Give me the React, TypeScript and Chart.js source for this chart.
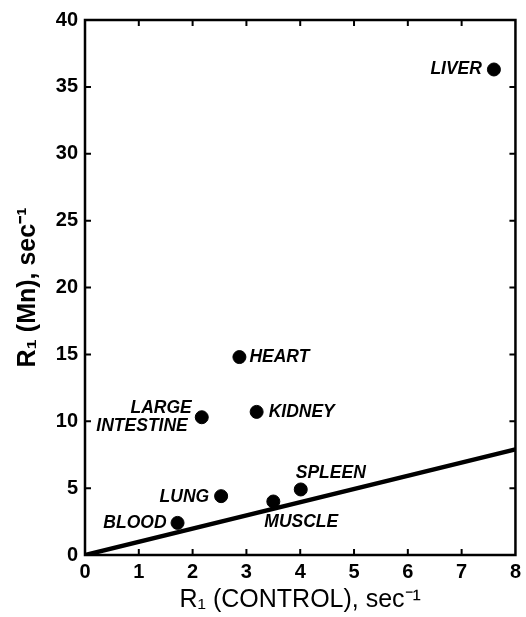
import { useEffect, useRef } from 'react';
import { Chart, registerables } from 'chart.js';

Chart.register(...registerables);

// ---- data ----
const ORGANS = ['LIVER', 'HEART', 'LARGE\nINTESTINE', 'KIDNEY', 'SPLEEN', 'LUNG', 'MUSCLE', 'BLOOD'];
const R1_CONTROL = [7.6, 2.87, 2.17, 3.19, 4.01, 2.53, 3.5, 1.72];
const R1_MN = [36.3, 14.8, 10.3, 10.7, 4.9, 4.4, 4.0, 2.4];

const IDENTITY_X = [0, 8];
const IDENTITY_Y = [0, 7.9];

const X_MIN = 0;
const X_MAX = 8;
const X_STEP = 1;
const Y_MIN = 0;
const Y_MAX = 40;
const Y_STEP = 5;

const X_TITLE = 'R\u2081 (CONTROL), sec\u207B\u00B9';
const Y_TITLE = 'R\u2081 (Mn), sec\u207B\u00B9';

// ---- label placement (style, in pixels relative to the point) ----
type LinePlace = { dx: number; dy: number; align: CanvasTextAlign };
const LABEL_PLACEMENT: Record<string, LinePlace[]> = {
  LIVER: [{ dx: -12, dy: 0, align: 'right' }],
  HEART: [{ dx: 10, dy: 0, align: 'left' }],
  'LARGE\nINTESTINE': [
    { dx: -10, dy: -9, align: 'right' },
    { dx: -14, dy: 9, align: 'right' },
  ],
  KIDNEY: [{ dx: 12, dy: 0, align: 'left' }],
  SPLEEN: [{ dx: -5, dy: -16, align: 'left' }],
  LUNG: [{ dx: -12, dy: 1, align: 'right' }],
  MUSCLE: [{ dx: -9, dy: 21, align: 'left' }],
  BLOOD: [{ dx: -11, dy: 0, align: 'right' }],
};

const FONT = "'Liberation Sans', Arial, Helvetica, sans-serif";

const framePlugin = {
  id: 'frameAndTicks',
  afterDraw(chart: any) {
    const { ctx, chartArea, scales } = chart;
    const { left, right, top, bottom } = chartArea;
    const xs = scales.x;
    const ys = scales.y;
    ctx.save();
    ctx.strokeStyle = '#000';
    ctx.lineWidth = 2.5;
    ctx.strokeRect(left, top, right - left, bottom - top);
    ctx.lineWidth = 2;
    const len = 6;
    ctx.beginPath();
    xs.ticks.forEach((t: any) => {
      if (t.value <= X_MIN || t.value >= X_MAX) return;
      const px = xs.getPixelForValue(t.value);
      ctx.moveTo(px, bottom);
      ctx.lineTo(px, bottom - len);
      ctx.moveTo(px, top);
      ctx.lineTo(px, top + len);
    });
    ys.ticks.forEach((t: any) => {
      if (t.value <= Y_MIN || t.value >= Y_MAX) return;
      const py = ys.getPixelForValue(t.value);
      ctx.moveTo(left, py);
      ctx.lineTo(left + len, py);
      ctx.moveTo(right, py);
      ctx.lineTo(right - len, py);
    });
    ctx.stroke();
    ctx.restore();
  },
};

const labelPlugin = {
  id: 'organLabels',
  afterDatasetsDraw(chart: any) {
    const { ctx, scales } = chart;
    const xs = scales.x;
    const ys = scales.y;
    ctx.save();
    ctx.fillStyle = '#000';
    ctx.font = `italic bold 17.5px ${FONT}`;
    ctx.textBaseline = 'middle';
    ORGANS.forEach((name, i) => {
      const px = xs.getPixelForValue(R1_CONTROL[i]);
      const py = ys.getPixelForValue(R1_MN[i]);
      const lines = name.split('\n');
      const places = LABEL_PLACEMENT[name] || [];
      lines.forEach((line, j) => {
        const p = places[j] || { dx: 10, dy: 0, align: 'left' as CanvasTextAlign };
        ctx.textAlign = p.align;
        ctx.fillText(line, px + p.dx, py + p.dy);
      });
    });
    ctx.restore();
  },
};

export default function App() {
  const canvasRef = useRef<HTMLCanvasElement | null>(null);

  useEffect(() => {
    if (!canvasRef.current) return;
    const chart = new Chart(canvasRef.current, {
      type: 'scatter',
      data: {
        datasets: [
          {
            type: 'line',
            data: IDENTITY_X.map((x, i) => ({ x, y: IDENTITY_Y[i] })),
            borderColor: '#000',
            borderWidth: 4.5,
            pointRadius: 0,
            fill: false,
          } as any,
          {
            type: 'scatter',
            data: R1_CONTROL.map((x, i) => ({ x, y: R1_MN[i] })),
            backgroundColor: '#000',
            borderColor: '#000',
            pointRadius: 6.5,
            pointHoverRadius: 6.5,
          },
        ],
      },
      options: {
        responsive: false,
        animation: false,
        events: [],
        layout: { padding: { top: 20, right: 9, left: 0, bottom: 0 } },
        plugins: {
          legend: { display: false },
          tooltip: { enabled: false },
        },
        scales: {
          x: {
            type: 'linear',
            min: X_MIN,
            max: X_MAX,
            ticks: {
              stepSize: X_STEP,
              color: '#000',
              padding: 5,
              font: { family: FONT, size: 20, weight: 'bold' },
            },
            grid: { display: false, drawTicks: false },
            border: { display: false },
            title: {
              display: true,
              text: X_TITLE,
              color: '#000',
              font: { family: FONT, size: 25, weight: 'normal' },
              padding: { top: 0, bottom: 2 },
            },
            afterFit(scale: any) {
              scale.height = 62;
            },
          },
          y: {
            type: 'linear',
            min: Y_MIN,
            max: Y_MAX,
            ticks: {
              stepSize: Y_STEP,
              color: '#000',
              padding: 7,
              font: { family: FONT, size: 20, weight: 'bold' },
            },
            grid: { display: false, drawTicks: false },
            border: { display: false },
            title: {
              display: true,
              text: Y_TITLE,
              color: '#000',
              font: { family: FONT, size: 25, weight: 'bold' },
              padding: { top: 13, bottom: 0 },
            },
            afterFit(scale: any) {
              scale.width = 85;
            },
          },
        },
      },
      plugins: [framePlugin, labelPlugin],
    });
    return () => chart.destroy();
  }, []);

  return (
    <div style={{ position: 'absolute', left: 0, top: 0, width: 526, height: 617, background: '#fff' }}>
      <canvas ref={canvasRef} width={526} height={617} />
    </div>
  );
}
